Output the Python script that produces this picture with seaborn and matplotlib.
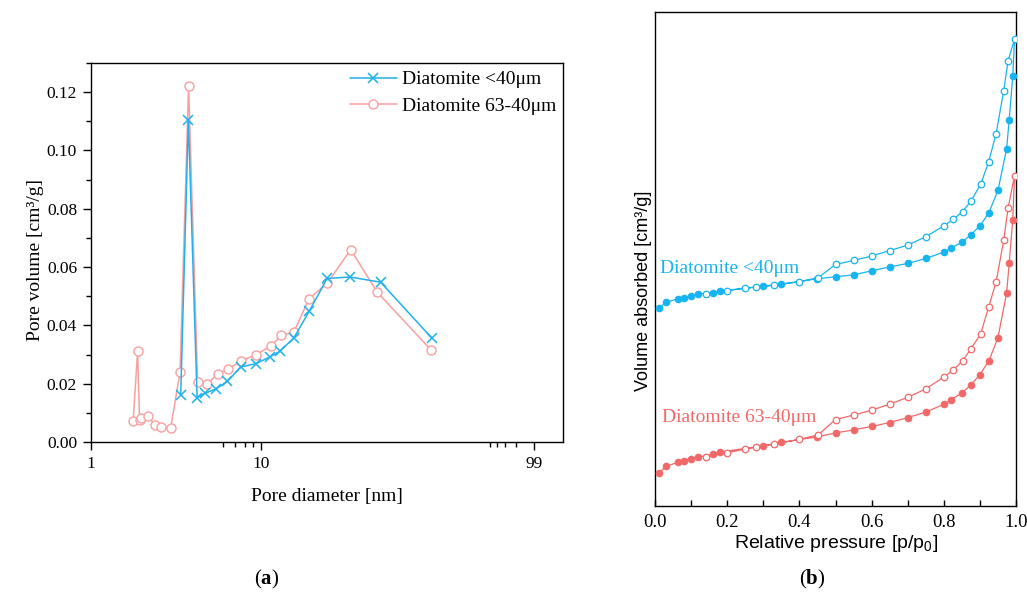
import matplotlib
matplotlib.use("Agg")
import matplotlib.pyplot as plt
import seaborn as sns
from matplotlib.ticker import FixedLocator, FixedFormatter, MultipleLocator, NullFormatter, NullLocator

# ---------------- (a) pore size distribution ----------------
fine_diam = [3.37, 3.74, 4.21, 4.69, 5.42, 6.34, 7.59, 9.35, 11.3, 12.9,
             15.6, 19.2, 24.5, 33.4, 50.6, 101.0]
fine_vol = [0.0160, 0.1106, 0.0152, 0.0167, 0.0182, 0.0208, 0.0257, 0.0269,
            0.0292, 0.0311, 0.0357, 0.0448, 0.0561, 0.0566, 0.0548, 0.0357]

coarse_diam = [1.77, 1.88, 1.93, 1.98, 2.17, 2.37, 2.57, 2.94, 3.34, 3.75,
               4.24, 4.80, 5.56, 6.42, 7.59, 9.35, 11.4, 13.2, 15.6, 19.2,
               24.5, 33.7, 48.3, 99.6]
coarse_vol = [0.0071, 0.0311, 0.0077, 0.0081, 0.0088, 0.0060, 0.0050, 0.0047,
              0.0239, 0.1221, 0.0205, 0.0198, 0.0233, 0.0251, 0.0277, 0.0300,
              0.0328, 0.0366, 0.0377, 0.0492, 0.0544, 0.0660, 0.0514, 0.0317]

diam_tick_pos = [1, 10, 403]
diam_tick_labels = ["1", "10", "99"]
diam_minor_pos = [6, 7, 8, 9, 222, 243, 272, 316]
vol_ticks = [0.00, 0.02, 0.04, 0.06, 0.08, 0.10, 0.12]

# ---------------- (b) N2 isotherms (arbitrary offset units) ----------------
ads_p = [0.01, 0.03, 0.065, 0.08, 0.10, 0.12, 0.16, 0.18, 0.30, 0.35, 0.45,
         0.50, 0.55, 0.60, 0.65, 0.70, 0.75, 0.80, 0.82, 0.85, 0.875, 0.90,
         0.925, 0.95, 0.974, 0.981, 0.991]
des_p = [0.996, 0.978, 0.966, 0.945, 0.924, 0.902, 0.875, 0.852, 0.826, 0.80,
         0.75, 0.70, 0.65, 0.60, 0.55, 0.50, 0.452, 0.40, 0.33, 0.28, 0.25,
         0.20, 0.14]

fine_ads = [40.0, 41.2, 42.0, 42.2, 42.5, 42.9, 43.2, 43.5, 44.5, 44.9, 46.0,
            46.4, 46.8, 47.6, 48.4, 49.1, 50.1, 51.4, 52.2, 53.4, 54.9, 56.7,
            59.4, 63.9, 72.3, 78.1, 87.0]
fine_des = [94.5, 90.1, 84.1, 75.4, 69.6, 65.1, 61.7, 59.6, 58.0, 56.7, 54.5,
            52.8, 51.7, 50.6, 49.7, 48.9, 46.2, 45.4, 44.7, 44.3, 44.1, 43.6,
            43.0]

coarse_ads = [6.6, 8.0, 8.9, 9.2, 9.6, 9.9, 10.5, 10.9, 12.2, 12.9, 14.0,
              14.8, 15.4, 16.1, 16.9, 17.9, 19.0, 20.6, 21.5, 22.9, 24.5, 26.6,
              29.4, 34.1, 43.1, 49.1, 57.9]
coarse_des = [66.9, 60.3, 53.8, 45.4, 40.2, 34.8, 31.8, 29.4, 27.5, 26.1, 23.7,
              22.0, 20.6, 19.4, 18.4, 17.5, 14.4, 13.5, 12.5, 11.9, 11.5, 10.8,
              9.9]

p_ticks = [0.0, 0.2, 0.4, 0.6, 0.8, 1.0]

label_fine = "Diatomite <40μm"
label_coarse = "Diatomite 63-40μm"

blue_a, pink_a = "#1fb2ea", "#f7a0a0"
blue_b, red_b = "#16b4f0", "#f26868"

sns.set_theme(style="white")
plt.rcParams["font.family"] = ["Liberation Serif", "DejaVu Serif"]
plt.rcParams["mathtext.fontset"] = "custom"
plt.rcParams["mathtext.rm"] = "Liberation Sans"
plt.rcParams["mathtext.bf"] = "Liberation Serif:bold"
for key in ("text.color", "axes.labelcolor", "xtick.color", "ytick.color",
            "axes.edgecolor"):
    plt.rcParams[key] = "black"
plt.rcParams["axes.linewidth"] = 1.0

fig = plt.figure(figsize=(10.27, 5.93), dpi=100)
ax1 = fig.add_axes([0.0886, 0.2546, 0.4596, 0.6392])
ax2 = fig.add_axes([0.6378, 0.1467, 0.3515, 0.8331])

# panel (a)
sns.lineplot(x=fine_diam, y=fine_vol, ax=ax1, sort=False, estimator=None,
             color=blue_a, lw=1.1, marker="x", markersize=7, mew=1.1,
             mec=blue_a, label=label_fine, zorder=3)
sns.lineplot(x=coarse_diam, y=coarse_vol, ax=ax1, sort=False, estimator=None,
             color=pink_a, lw=1.1, marker="o", markersize=6.5, mew=1.0,
             mfc="white", mec=pink_a, label=label_coarse, zorder=2)
ax1.set_xscale("log")
ax1.set_xlim(1, 598)
ax1.set_ylim(0, 0.13)
ax1.xaxis.set_major_locator(FixedLocator(diam_tick_pos))
ax1.xaxis.set_major_formatter(FixedFormatter(diam_tick_labels))
ax1.xaxis.set_minor_locator(FixedLocator(diam_minor_pos))
ax1.xaxis.set_minor_formatter(NullFormatter())
ax1.yaxis.set_major_locator(FixedLocator(vol_ticks))
ax1.yaxis.set_major_formatter(FixedFormatter([f"{v:.2f}" for v in vol_ticks]))
ax1.yaxis.set_minor_locator(MultipleLocator(0.01))
ax1.tick_params(axis="both", which="major", direction="out", length=6,
                width=1, labelsize=12.5, colors="black", pad=4)
ax1.tick_params(axis="both", which="minor", direction="out", length=3.5,
                width=1, colors="black")
ax1.tick_params(bottom=True, left=True, which="both")
ax1.set_xlabel("Pore diameter [nm]", fontsize=14)
ax1.set_ylabel("Pore volume [cm³/g]", fontsize=14)
ax1.xaxis.set_label_coords(0.5, -0.12)
ax1.yaxis.set_label_coords(-0.10, 0.48)
leg = ax1.legend(loc="upper right", bbox_to_anchor=(1.01, 1.01), frameon=False,
                 fontsize=14, handlelength=2.4, handletextpad=0.25,
                 labelspacing=0.45, borderaxespad=0.2)

# panel (b)
for ads, des, col in ((fine_ads, fine_des, blue_b), (coarse_ads, coarse_des, red_b)):
    loop_p = ads_p + des_p
    loop_v = ads + des
    sns.lineplot(x=loop_p, y=loop_v, ax=ax2, sort=False, estimator=None,
                 color=col, lw=0.9)
    sns.scatterplot(x=ads_p, y=ads, ax=ax2, color=col, s=22, edgecolor=col,
                    linewidth=0.8, zorder=3)
    sns.scatterplot(x=des_p, y=des, ax=ax2, color="white", s=22,
                    edgecolor=col, linewidth=0.9, zorder=4)
ax2.set_xlim(0, 1)
ax2.set_ylim(0, 100)
ax2.xaxis.set_major_locator(FixedLocator(p_ticks))
ax2.xaxis.set_major_formatter(FixedFormatter([f"{v:.1f}" for v in p_ticks]))
ax2.xaxis.set_minor_locator(MultipleLocator(0.1))
ax2.yaxis.set_major_locator(NullLocator())
ax2.tick_params(axis="x", which="both", direction="in", length=4, width=1,
                labelsize=13.5, colors="black", bottom=True, pad=6)
ax2.set_xlabel(r"Relative pressure [p/p$_\mathregular{0}$]", fontsize=14,
               family=["Liberation Sans", "DejaVu Sans"])
ax2.set_ylabel("Volume absorbed [cm³/g]", fontsize=13,
               family=["Liberation Sans", "DejaVu Sans"])
ax2.xaxis.set_label_coords(0.5, -0.055)
ax2.yaxis.set_label_coords(-0.008, 0.435)
ax2.text(0.013, 0.48, label_fine, transform=ax2.transAxes, color=blue_b,
         fontsize=14, va="center", ha="left")
ax2.text(0.018, 0.18, label_coarse, transform=ax2.transAxes, color=red_b,
         fontsize=14, va="center", ha="left")

for ax in (ax1, ax2):
    for s in ax.spines.values():
        s.set_visible(True)
        s.set_color("black")
        s.set_linewidth(1.0)

fig.text(0.26, 0.022, r"($\mathbf{a}$)", fontsize=15, ha="center", va="center")
fig.text(0.791, 0.022, r"($\mathbf{b}$)", fontsize=15, ha="center", va="center")

fig.savefig("out.png", dpi=100)
